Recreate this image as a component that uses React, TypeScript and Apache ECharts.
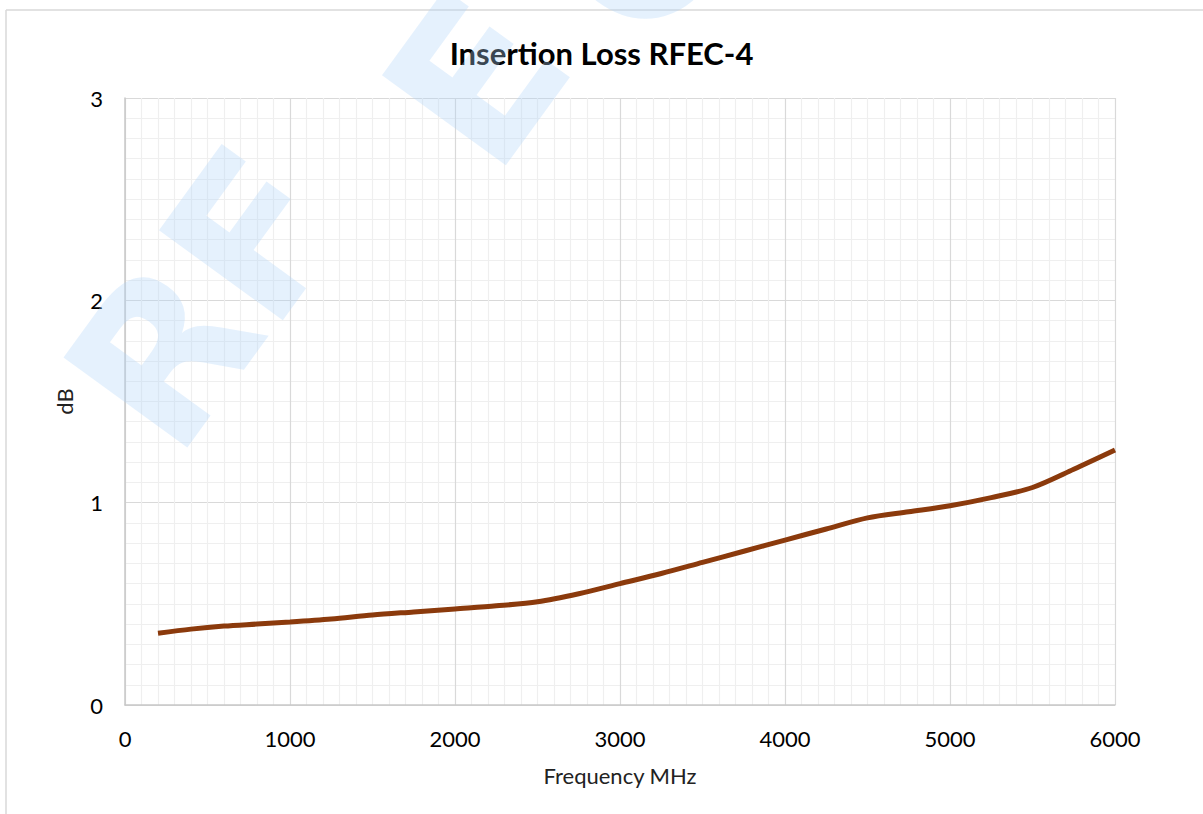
import React, { useEffect, useRef } from "react";
import * as echarts from "echarts";

const frequencies = [200, 400, 600, 800, 1000, 1250, 1500, 1750, 2000, 2250, 2500, 2750, 3000, 3250, 3500, 3750, 4000, 4250, 4500, 4750, 5000, 5250, 5500, 5750, 6000];
const lossDb = [0.355, 0.375, 0.39, 0.4, 0.41, 0.425, 0.445, 0.46, 0.475, 0.49, 0.51, 0.55, 0.6, 0.65, 0.705, 0.76, 0.815, 0.87, 0.925, 0.955, 0.985, 1.025, 1.075, 1.165, 1.26];
const titleText = "Insertion Loss RFEC-4";
const xName = "Frequency MHz";
const yName = "dB";
const watermarkLetters = ["R", "F", "E", "C"];

const FONT = "Lato, 'Open Sans', sans-serif";

export default function App() {
  const ref = useRef<HTMLDivElement>(null);
  useEffect(() => {
    if (!ref.current) return;
    const chart = echarts.init(ref.current, undefined, { renderer: "svg" });
    const wmPos = [
      [165, 355],
      [255, 235],
      [478, 80],
      [640, -50],
    ];
    chart.setOption({
      animation: false,
      backgroundColor: "#ffffff",
      title: {
        text: titleText,
        left: "center",
        top: 32,
        textStyle: { fontFamily: FONT, fontSize: 31, fontWeight: "bold", color: "#000000" },
      },
      grid: { left: 125, right: 88, top: 98, bottom: 109, containLabel: false },
      xAxis: {
        type: "value",
        min: 0,
        max: 6000,
        interval: 1000,
        name: xName,
        nameLocation: "middle",
        nameGap: 59,
        nameTextStyle: { fontFamily: FONT, fontSize: 22, color: "#222" },
        axisLine: { show: true, lineStyle: { color: "#c8c8c8", width: 1.5 } },
        axisTick: { show: false },
        axisLabel: { fontFamily: FONT, fontSize: 22, color: "#000", margin: 22, formatter: (v: number) => String(v) },
        splitLine: { show: true, lineStyle: { color: "#d9d9d9", width: 1.2 } },
        minorTick: { show: false, splitNumber: 10 },
        minorSplitLine: { show: true, lineStyle: { color: "#efefef", width: 1.2 } },
      },
      yAxis: {
        type: "value",
        min: 0,
        max: 3,
        interval: 1,
        name: yName,
        nameLocation: "middle",
        nameGap: 50,
        nameRotate: 90,
        nameTextStyle: { fontFamily: FONT, fontSize: 22, color: "#222" },
        axisLine: { show: true, lineStyle: { color: "#c8c8c8", width: 1.5 } },
        axisTick: { show: false },
        axisLabel: { fontFamily: FONT, fontSize: 22, color: "#000", margin: 22 },
        splitLine: { show: true, lineStyle: { color: "#d9d9d9", width: 1.2 } },
        minorTick: { show: false, splitNumber: 10 },
        minorSplitLine: { show: true, lineStyle: { color: "#efefef", width: 1.2 } },
      },
      series: [
        {
          type: "line",
          data: frequencies.map((f, i) => [f, lossDb[i]]),
          smooth: 0.3,
          symbol: "none",
          lineStyle: { color: "#8b3a0c", width: 5 },
          z: 3,
        },
      ],
      graphic: [
        { type: "line", shape: { x1: 6, y1: 10, x2: 1203, y2: 10 }, style: { stroke: "#d9d9d9", lineWidth: 1.5 }, silent: true },
        { type: "line", shape: { x1: 6, y1: 10, x2: 6, y2: 814 }, style: { stroke: "#d9d9d9", lineWidth: 1.5 }, silent: true },
        ...watermarkLetters.map((ch, i) => ({
          type: "text",
          x: wmPos[i][0],
          y: wmPos[i][1],
          rotation: (54 * Math.PI) / 180,
          z: 10,
          silent: true,
          style: {
            text: ch,
            fontFamily: "'DejaVu Sans', sans-serif",
            fontWeight: "bold",
            fontSize: 210,
            fill: "rgba(175, 212, 250, 0.33)",
            align: "center",
            verticalAlign: "middle",
          },
        })),
      ],
    });
    return () => chart.dispose();
  }, []);
  return <div ref={ref} style={{ position: "absolute", left: 0, top: 0, width: 1203, height: 814 }} />;
}
